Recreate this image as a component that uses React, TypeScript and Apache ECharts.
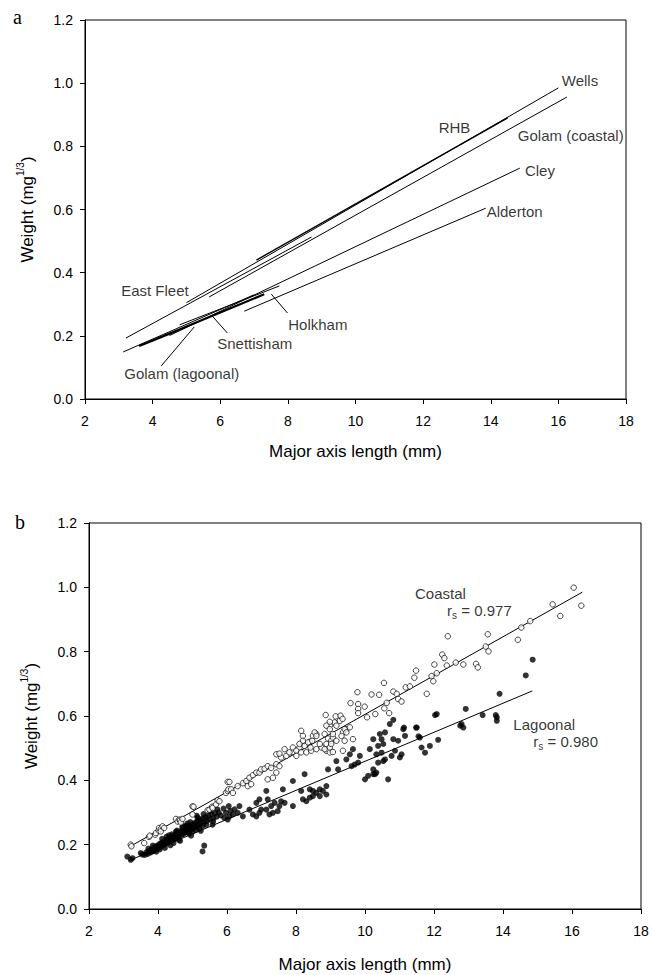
import React, { useEffect, useRef } from "react";
import * as echarts from "echarts";

const FONT = "'Liberation Sans', Arial, sans-serif";

// ---------- Panel a : fitted lines per site ----------
const eastFleet = [[3.21, 0.193], [8.7, 0.513]];
const wells = [[5.0, 0.305], [16.0, 0.985]];
const rhb = [[7.07, 0.44], [14.5, 0.89]];
const golamCoastal = [[5.67, 0.323], [16.25, 0.956]];
const cley = [[4.5, 0.201], [14.86, 0.731]];
const alderton = [[6.71, 0.278], [13.85, 0.604]];
const holkham = [[4.8, 0.235], [7.75, 0.358]];
const golamLagoonal = [[3.13, 0.149], [7.0, 0.33]];
const snettisham = [[3.6, 0.168], [4.5, 0.207], [5.5, 0.252], [6.5, 0.296], [7.3, 0.332]];

const snettishamLeader = [[5.76, 0.263], [6.21, 0.209]];
const golamLagoonalLeader = [[5.23, 0.228], [4.25, 0.104]];
const holkhamLeader = [[7.51, 0.332], [7.99, 0.272]];

const siteLabelNames = ["Wells", "RHB", "Golam (coastal)", "Cley", "Alderton", "East Fleet", "Snettisham", "Golam (lagoonal)", "Holkham"];
const siteLabelX = [16.1, 12.46, 14.8, 15.01, 13.88, 3.07, 5.91, 3.16, 8.01];
const siteLabelY = [1.01, 0.861, 0.833, 0.725, 0.595, 0.342, 0.177, 0.082, 0.237];

// ---------- Panel b : individual shells ----------
const coastal = [
  [3.21, 0.2], [3.23, 0.195], [3.6, 0.205], [3.74, 0.224], [3.76, 0.228], [3.92, 0.231], [3.94, 0.236], [4.02, 0.244], [4.03, 0.252], [4.08, 0.249], [4.08, 0.241], [4.13, 0.257], [4.18, 0.252],
  [4.52, 0.28], [4.57, 0.272], [4.62, 0.278], [4.64, 0.275], [4.66, 0.269], [4.71, 0.28],
  [5.0, 0.319], [5.03, 0.318], [5.0, 0.294], [5.44, 0.307], [5.49, 0.309], [5.57, 0.318], [5.58, 0.314], [5.68, 0.325], [5.73, 0.338], [5.78, 0.335],
  [5.97, 0.361], [6.02, 0.395], [6.02, 0.367], [6.04, 0.372], [6.07, 0.395], [6.12, 0.372], [6.17, 0.361],
  [6.31, 0.382], [6.46, 0.391], [6.56, 0.398], [6.6, 0.382], [6.7, 0.388], [6.65, 0.408], [6.75, 0.416], [6.85, 0.424], [6.94, 0.424], [6.99, 0.434], [7.09, 0.436], [7.18, 0.444], [7.28, 0.439], [7.43, 0.45], [7.52, 0.444], [7.43, 0.424], [7.33, 0.408], [7.18, 0.403],
  [7.43, 0.481], [7.57, 0.471], [7.52, 0.483], [7.72, 0.476], [7.91, 0.488], [8.1, 0.502], [8.2, 0.518], [8.4, 0.52], [8.49, 0.538], [8.59, 0.544], [8.2, 0.538], [8.15, 0.554],
  [7.91, 0.502], [8.01, 0.492], [7.81, 0.487], [7.67, 0.497], [8.01, 0.476], [8.15, 0.487], [8.3, 0.487], [8.44, 0.492], [8.59, 0.497], [8.74, 0.502], [8.88, 0.492], [8.98, 0.487],
  [8.2, 0.523], [8.1, 0.513], [8.25, 0.507], [8.35, 0.518], [8.42, 0.502], [8.54, 0.549], [8.59, 0.538], [8.47, 0.523],
  [8.83, 0.544], [8.93, 0.53], [9.02, 0.523], [8.88, 0.513], [8.98, 0.502], [9.07, 0.488],
  [8.69, 0.513], [8.83, 0.497], [9.02, 0.513], [9.07, 0.533], [9.17, 0.523], [9.36, 0.549], [9.46, 0.559], [9.56, 0.565], [8.98, 0.57], [9.12, 0.58], [9.27, 0.585], [9.65, 0.528], [9.36, 0.492],
  [8.86, 0.603], [8.98, 0.582], [8.88, 0.57], [9.15, 0.599], [9.29, 0.601], [9.35, 0.591], [9.17, 0.57],
  [9.41, 0.559], [9.46, 0.549], [9.32, 0.538], [9.41, 0.523], [8.98, 0.559], [9.07, 0.544],
  [9.58, 0.64], [9.8, 0.637], [9.8, 0.622], [9.8, 0.609], [9.99, 0.629], [10.06, 0.596], [10.3, 0.606], [10.56, 0.624], [10.63, 0.641], [10.7, 0.609], [10.96, 0.653], [11.06, 0.645],
  [9.78, 0.674], [10.19, 0.667], [10.41, 0.666], [10.55, 0.703], [10.82, 0.676], [10.92, 0.669], [11.18, 0.689], [11.3, 0.692], [11.43, 0.719], [11.48, 0.741], [11.79, 0.669],
  [11.93, 0.724], [11.98, 0.708], [12.01, 0.76], [12.08, 0.733], [12.24, 0.791], [12.3, 0.78], [12.37, 0.757], [12.4, 0.848], [12.63, 0.766], [12.85, 0.76], [13.22, 0.762], [13.27, 0.751],
  [13.5, 0.816], [13.56, 0.854], [13.58, 0.801], [14.43, 0.837], [14.53, 0.875], [14.79, 0.895], [15.44, 0.947], [15.66, 0.911], [16.05, 0.999], [16.27, 0.943]
];

const lagoonal = [
  [3.11, 0.163], [3.26, 0.158], [3.21, 0.153], [3.5, 0.174], [3.55, 0.169],
  [3.62, 0.168], [3.66, 0.176], [3.7, 0.171], [3.73, 0.18], [3.77, 0.175], [3.8, 0.184], [3.82, 0.178], [3.85, 0.188], [3.88, 0.181], [3.9, 0.192], [3.93, 0.185], [3.96, 0.196], [3.98, 0.188],
  [4.01, 0.199], [4.03, 0.191], [4.06, 0.203], [4.09, 0.194], [4.11, 0.206], [4.14, 0.198], [4.17, 0.209], [4.19, 0.201], [4.22, 0.213], [4.25, 0.204], [4.27, 0.216], [4.3, 0.208], [4.33, 0.22], [4.35, 0.211], [4.38, 0.223], [4.41, 0.214], [4.43, 0.226], [4.46, 0.218], [4.49, 0.23],
  [4.51, 0.22], [4.54, 0.233], [4.57, 0.224], [4.59, 0.236], [4.62, 0.227], [4.65, 0.24], [4.67, 0.23], [4.7, 0.243], [4.73, 0.233], [4.75, 0.246], [4.78, 0.237], [4.81, 0.25], [4.83, 0.24], [4.86, 0.253], [4.89, 0.243], [4.92, 0.256], [4.95, 0.246], [4.98, 0.262],
  [5.01, 0.25], [5.04, 0.265], [5.07, 0.254], [5.1, 0.27], [5.13, 0.258], [5.16, 0.274], [5.19, 0.262], [5.22, 0.278], [5.26, 0.266], [5.3, 0.282], [5.34, 0.27], [5.38, 0.286], [5.42, 0.274], [5.46, 0.29], [5.5, 0.278], [5.55, 0.294], [5.6, 0.282], [5.65, 0.298], [5.7, 0.287], [5.76, 0.3], [5.82, 0.291],
  [4.2, 0.19], [4.4, 0.232], [4.6, 0.215], [4.8, 0.258], [5.0, 0.24], [5.2, 0.25], [4.05, 0.185], [4.45, 0.205], [4.7, 0.252], [4.9, 0.234], [5.1, 0.246], [5.4, 0.262], [5.6, 0.272], [5.5, 0.305], [5.3, 0.258], [3.95, 0.178], [4.25, 0.225], [4.55, 0.244], [4.85, 0.266], [5.15, 0.284],
  [4.12, 0.218], [4.32, 0.229], [4.52, 0.241], [4.72, 0.258], [4.94, 0.27], [5.12, 0.29], [5.32, 0.295], [5.52, 0.31], [5.72, 0.31], [5.9, 0.312], [4.36, 0.198], [4.64, 0.212], [4.96, 0.228], [5.24, 0.243], [5.58, 0.262], [3.85, 0.197], [3.72, 0.188], [6.1, 0.305], [6.22, 0.31], [6.05, 0.32],
  [4.86, 0.259], [4.91, 0.257], [5.29, 0.179], [5.34, 0.197],
  [5.92, 0.283], [5.97, 0.299], [6.02, 0.278], [6.07, 0.288], [6.17, 0.294], [6.31, 0.299], [6.36, 0.32], [6.46, 0.288],
  [6.65, 0.309], [6.75, 0.294], [6.85, 0.288], [6.85, 0.33], [6.94, 0.299], [6.94, 0.341], [6.99, 0.309], [7.14, 0.367], [7.18, 0.341],
  [7.14, 0.309], [7.23, 0.294], [7.28, 0.32], [7.33, 0.299], [7.38, 0.33], [7.47, 0.304], [7.52, 0.32], [7.57, 0.335], [7.62, 0.372], [7.67, 0.33],
  [7.91, 0.398], [7.91, 0.32], [8.15, 0.367], [8.2, 0.341], [8.25, 0.419], [8.3, 0.335], [8.4, 0.372], [8.4, 0.346], [8.49, 0.367], [8.49, 0.351], [8.59, 0.361], [8.69, 0.351], [8.69, 0.372], [8.78, 0.367], [8.88, 0.382], [8.88, 0.356], [8.93, 0.434], [9.17, 0.46], [9.22, 0.434],
  [9.46, 0.465], [9.56, 0.481], [9.61, 0.444], [9.65, 0.497], [9.7, 0.449], [9.8, 0.455], [9.85, 0.476], [10.0, 0.403], [10.09, 0.414], [10.14, 0.497], [10.24, 0.528], [10.24, 0.419], [10.33, 0.424],
  [10.24, 0.434], [10.29, 0.419], [10.33, 0.481], [10.38, 0.507], [10.38, 0.455], [10.43, 0.544], [10.48, 0.486], [10.48, 0.528], [10.53, 0.513], [10.53, 0.46], [10.58, 0.465], [10.58, 0.549], [10.67, 0.403], [10.72, 0.575], [10.77, 0.476], [10.82, 0.528], [10.82, 0.588], [10.87, 0.492], [10.96, 0.523], [11.01, 0.471], [11.06, 0.481], [11.11, 0.559], [11.13, 0.564], [11.16, 0.538],
  [11.48, 0.564], [11.5, 0.564], [11.55, 0.537], [11.59, 0.533], [11.64, 0.502], [11.74, 0.486], [11.88, 0.507], [12.03, 0.603], [12.08, 0.606], [12.12, 0.526],
  [12.76, 0.57], [12.8, 0.575], [12.85, 0.564], [12.92, 0.622], [13.41, 0.603], [13.79, 0.603], [13.82, 0.596], [13.82, 0.585], [13.9, 0.669], [14.66, 0.726], [14.86, 0.775]
];

const coastalFit = [[3.2, 0.195], [16.3, 0.985]];
const lagoonalFit = [[3.15, 0.15], [14.85, 0.678]];

const groupLabelText = ["Coastal", "r{sub|s} = 0.977", "Lagoonal", "r{sub|s} = 0.980"];
const groupLabelX = [11.45, 12.38, 14.3, 14.88];
const groupLabelY = [0.981, 0.928, 0.575, 0.522];

const xTickMin = 2, xTickMax = 18, xTickStep = 2;
const yTickMin = 0, yTickMax = 1.2, yTickStep = 0.2;

function makeX(gridIndex: number) {
  return {
    type: "value", gridIndex, min: xTickMin, max: xTickMax, interval: xTickStep,
    axisLine: { show: true, onZero: false, lineStyle: { color: "#000", width: 1 } },
    axisTick: { show: true, length: 5, lineStyle: { color: "#000" } },
    axisLabel: { fontSize: 14, color: "#000", margin: 15, fontFamily: FONT },
    splitLine: { show: false },
    name: "Major axis length (mm)", nameLocation: "middle", nameGap: gridIndex === 0 ? 44 : 47,
    nameTextStyle: { fontSize: 17, color: "#000", fontFamily: FONT },
  };
}
function makeY(gridIndex: number) {
  return {
    type: "value", gridIndex, min: yTickMin, max: yTickMax, interval: yTickStep,
    axisLine: { show: true, onZero: false, lineStyle: { color: "#000", width: 1 } },
    axisTick: { show: true, length: 5, lineStyle: { color: "#000" } },
    axisLabel: { fontSize: 14, color: "#000", margin: 12, fontFamily: FONT, formatter: (v: number) => v.toFixed(1) },
    splitLine: { show: false },
    name: "Weight (mg{sup|1/3})", nameLocation: "middle", nameGap: 46,
    nameTextStyle: { fontSize: 17, color: "#000", fontFamily: FONT, lineHeight: 24, rich: { sup: { fontSize: 10, lineHeight: 10, verticalAlign: "top", fontFamily: FONT, color: "#000" } } },
  };
}

function lineSeries(data: number[][], width = 1, smooth = false, xi = 0) {
  return {
    type: "line", xAxisIndex: xi, yAxisIndex: xi, data, symbol: "none", smooth,
    lineStyle: { color: "#000", width }, silent: true, z: 3,
  };
}

export default function App() {
  const ref = useRef<HTMLDivElement>(null);
  useEffect(() => {
    if (!ref.current) return;
    const chart = echarts.init(ref.current, undefined, { renderer: "svg" });
    const labelStyle = {
      show: true, position: [0, 0], align: "left", verticalAlign: "middle",
      fontSize: 15, color: "#000", fontFamily: FONT,
      formatter: (p: any) => p.data.name,
      rich: { sub: { fontSize: 10, verticalAlign: "bottom", lineHeight: 10, fontFamily: FONT, color: "#000" } },
      lineHeight: 20,
    };
    chart.setOption({
      animation: false,
      backgroundColor: "#fff",
      grid: [
        { left: 85, top: 20, width: 541, height: 379, show: true, borderColor: "#000", borderWidth: 1 },
        { left: 89, top: 523, width: 552, height: 386, show: true, borderColor: "#000", borderWidth: 1 },
      ],
      xAxis: [makeX(0), makeX(1)],
      yAxis: [makeY(0), makeY(1)],
      graphic: [
        { type: "text", left: 13, top: 7, style: { text: "a", font: "20px 'Liberation Serif', 'Times New Roman', serif", fill: "#000" } },
        { type: "text", left: 15, top: 512, style: { text: "b", font: "20px 'Liberation Serif', 'Times New Roman', serif", fill: "#000" } },
      ],
      series: [
        lineSeries(eastFleet),
        lineSeries(wells),
        lineSeries(rhb, 1.4),
        lineSeries(golamCoastal),
        lineSeries(cley),
        lineSeries(alderton),
        lineSeries(holkham),
        lineSeries(golamLagoonal),
        lineSeries(snettisham, 2.2, true),
        lineSeries(snettishamLeader),
        lineSeries(golamLagoonalLeader),
        lineSeries(holkhamLeader),
        {
          type: "scatter", xAxisIndex: 0, yAxisIndex: 0, symbolSize: 0, silent: true,
          data: siteLabelNames.map((n, i) => ({ name: n, value: [siteLabelX[i], siteLabelY[i]] })),
          label: labelStyle,
        },
        lineSeries(coastalFit, 1, false, 1),
        lineSeries(lagoonalFit, 1, false, 1),
        {
          type: "scatter", xAxisIndex: 1, yAxisIndex: 1, data: lagoonal, symbol: "circle", symbolSize: 6,
          itemStyle: { color: "#000" }, silent: true, z: 4,
        },
        {
          type: "scatter", xAxisIndex: 1, yAxisIndex: 1, data: coastal, symbol: "circle", symbolSize: 5.5,
          itemStyle: { color: "#fff", borderColor: "#000", borderWidth: 0.9 }, silent: true, z: 5,
        },
        {
          type: "scatter", xAxisIndex: 1, yAxisIndex: 1, symbolSize: 0, silent: true,
          data: groupLabelText.map((n, i) => ({ name: n, value: [groupLabelX[i], groupLabelY[i]] })),
          label: labelStyle,
        },
      ],
    });
    return () => chart.dispose();
  }, []);
  return <div ref={ref} style={{ position: "absolute", left: 0, top: 0, width: 652, height: 975 }} />;
}
